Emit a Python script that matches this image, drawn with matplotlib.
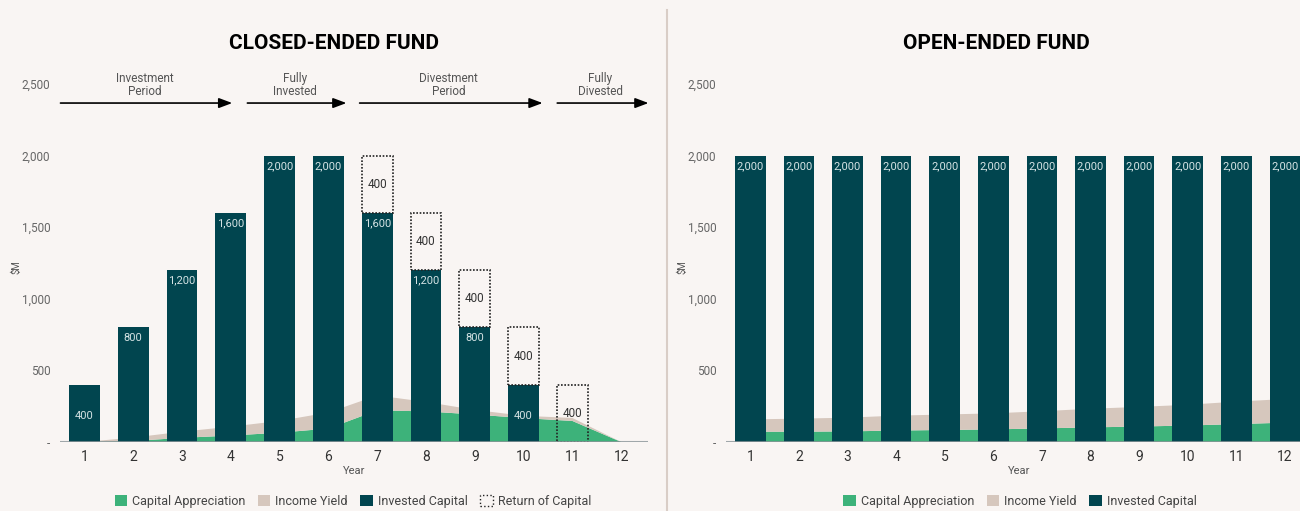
import matplotlib.pyplot as plt
from matplotlib.patches import Patch

plt.rcParams["font.family"] = ["Roboto", "DejaVu Sans"]

years = list(range(1, 13))

# closed-ended fund ($M)
closed_invested = [400, 800, 1200, 1600, 2000, 2000, 1600, 1200, 800, 400, 0, 0]
closed_return = [0, 0, 0, 0, 0, 0, 400, 400, 400, 400, 400, 0]
closed_appreciation = [0, 7, 29, 45, 65, 94, 221, 214, 192, 167, 147, 0]
closed_income = [0, 24, 43, 62, 82, 112, 104, 66, 32, 16, 21, 0]

# open-ended fund ($M)
open_invested = [2000] * 12
open_appreciation = [72, 72, 74, 80, 84, 88, 95, 102, 108, 115, 125, 135]
open_income = [86, 91, 96, 104, 108, 112, 120, 130, 137, 145, 157, 165]

# phase annotations (label, arrow start, arrow end, text centre) in year units
phases = [
    ("Investment\nPeriod", 0.51, 4.03, 2.23),
    ("Fully\nInvested", 4.34, 6.37, 5.32),
    ("Divestment\nPeriod", 6.64, 10.39, 8.46),
    ("Fully\nDivested", 10.69, 12.56, 11.57),
]

yticks = [0, 500, 1000, 1500, 2000, 2500]
ytick_labels = ["-", "500", "1,000", "1,500", "2,000", "2,500"]

BG = "#f9f5f3"
TEAL = "#01454f"
GREEN = "#3db27a"
BEIGE = "#d6c7bd"
BAR_W = 0.63

fig = plt.figure(figsize=(13, 5.11), dpi=100, facecolor=BG)
ax1 = fig.add_axes([60 / 1300, 69 / 511, 588 / 1300, 358 / 511])
ax2 = fig.add_axes([726 / 1300, 69 / 511, 585.6 / 1300, 358 / 511])


def style_axis(ax):
    ax.set_facecolor(BG)
    ax.set_xlim(0.5, 12.55)
    ax.set_ylim(0, 2500)
    for s in ax.spines.values():
        s.set_visible(False)
    ax.set_yticks(yticks)
    ax.set_yticklabels(ytick_labels)
    ax.set_xticks(years)
    ax.tick_params(axis="y", length=0, pad=7, labelsize=8.5, labelcolor="#666666")
    ax.tick_params(axis="x", length=0, pad=6, labelsize=10, labelcolor="#333333")
    ax.axhline(0, color="#8a9498", lw=2.2, alpha=0.8, zorder=5)
    ax.set_xlabel("Year", fontsize=8, color="#555555", labelpad=1)
    ax.set_ylabel("$M", fontsize=7, color="#555555")
    ax.yaxis.set_label_coords(-0.066, 0.49)


def label_bars(ax, values):
    for x, v in zip(years, values):
        if v <= 0:
            continue
        text = f"{v:,}"
        if v <= 400:
            ax.text(x, v / 2 - 20, text, ha="center", va="center",
                    fontsize=8, color="#d5e3e4", zorder=6)
        else:
            ax.annotate(text, (x, v), xytext=(0, -7.5), textcoords="offset points",
                        ha="center", va="center", fontsize=8, color="#d5e3e4", zorder=6)


# ---- closed-ended
style_axis(ax1)
ax1.stackplot(years, closed_appreciation, closed_income, colors=[GREEN, BEIGE], zorder=1)
ax1.bar(years, closed_invested, width=BAR_W, color=TEAL, zorder=3)

# dotted boxes only where capital is returned
ret = [(x, b, r) for x, b, r in zip(years, closed_invested, closed_return) if r > 0]
ax1.bar([t[0] for t in ret], [t[2] for t in ret], width=BAR_W,
        bottom=[t[1] for t in ret], facecolor="none", edgecolor="#222222",
        linestyle=(0, (1, 1)), linewidth=1.2, zorder=4)
for x, b, r in ret:
    ax1.text(x, b + r / 2, f"{r:,}", ha="center", va="center",
             fontsize=8.5, color="#333333", zorder=6)
label_bars(ax1, closed_invested)

for label, x0, x1, xt in phases:
    ax1.annotate("", xy=(x1, 2367), xytext=(x0, 2367),
                 arrowprops=dict(arrowstyle="-|>,head_length=0.8,head_width=0.3",
                                 color="black", lw=1.2, shrinkA=0, shrinkB=0),
                 annotation_clip=False)
    ax1.text(xt, 2493, label, ha="center", va="center", fontsize=8.5,
             color="#555555", linespacing=1.05, clip_on=False)

legend_kw = dict(loc="center", frameon=False, fontsize=9, handlelength=1.0,
                 handleheight=1.0, handletextpad=0.4, columnspacing=1.0,
                 labelcolor="#444444")
ax1.legend(handles=[Patch(facecolor=GREEN, label="Capital Appreciation"),
                    Patch(facecolor=BEIGE, label="Income Yield"),
                    Patch(facecolor=TEAL, label="Invested Capital"),
                    Patch(facecolor="none", edgecolor="#222222", linestyle=":",
                          label="Return of Capital")],
           bbox_to_anchor=(0.498, -0.165), ncol=4, **legend_kw)

# ---- open-ended
style_axis(ax2)
ax2.stackplot(years, open_appreciation, open_income, colors=[GREEN, BEIGE], zorder=1)
ax2.bar(years, open_invested, width=BAR_W, color=TEAL, zorder=3)
label_bars(ax2, open_invested)
ax2.legend(handles=[Patch(facecolor=GREEN, label="Capital Appreciation"),
                    Patch(facecolor=BEIGE, label="Income Yield"),
                    Patch(facecolor=TEAL, label="Invested Capital")],
           bbox_to_anchor=(0.502, -0.165), ncol=3, **legend_kw)

# titles and divider
fig.text(334 / 1300, 1 - 43 / 511, "CLOSED-ENDED FUND", ha="center", va="center",
         fontsize=15, fontweight="bold", color="black")
fig.text(996 / 1300, 1 - 43 / 511, "OPEN-ENDED FUND", ha="center", va="center",
         fontsize=15, fontweight="bold", color="black")
fig.add_artist(plt.Line2D([667 / 1300, 667 / 1300], [0, 1 - 10 / 511],
                          color="#d9cdc6", lw=1.5))

fig.savefig("out.png", dpi=100, facecolor=BG)
